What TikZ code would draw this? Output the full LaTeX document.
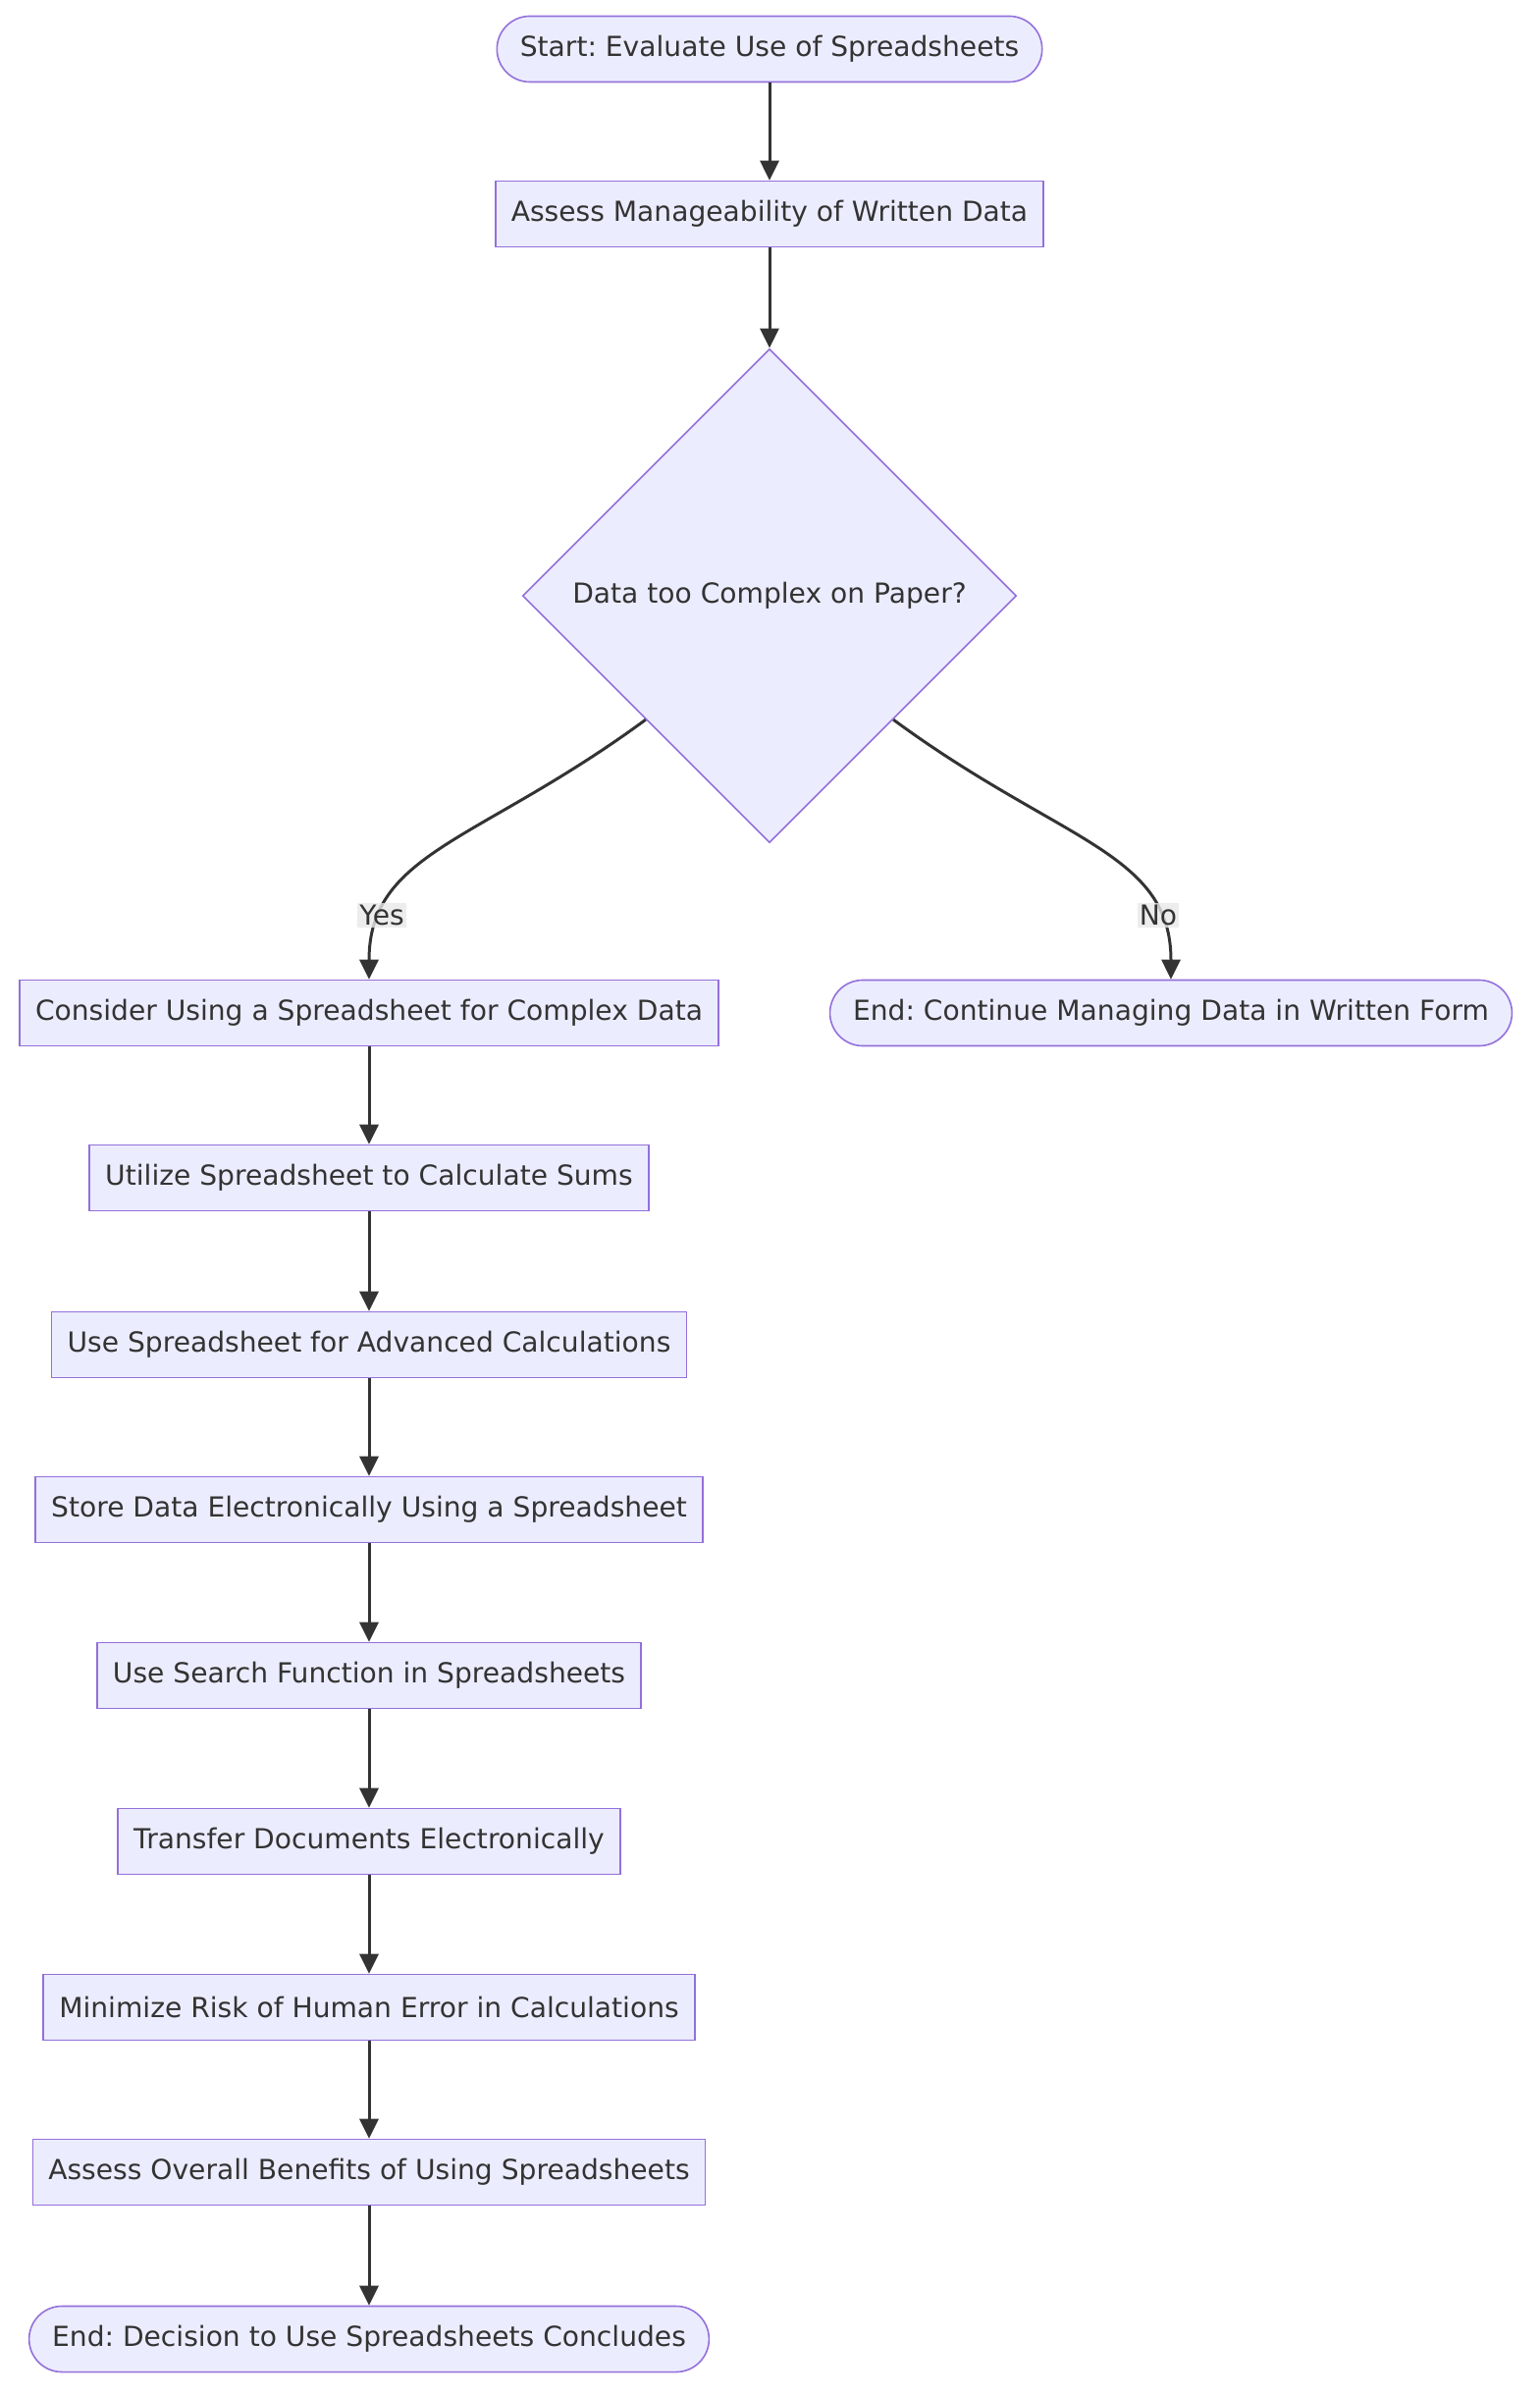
\documentclass[tikz,border=0pt]{standalone}
\usepackage{fontspec}
\setmainfont{DejaVu Sans}
\frenchspacing
\usetikzlibrary{shapes.geometric,arrows.meta}
\definecolor{boxfill}{HTML}{ECECFF}
\definecolor{boxline}{HTML}{9370DB}
\definecolor{ink}{HTML}{333333}
\definecolor{lblfill}{HTML}{E8E8E8}
\begin{document}
\begin{tikzpicture}[x=0.01cm, y=-0.01cm,
	font=\fontsize{8pt}{9.6pt}\selectfont, text=ink,
	box/.style={draw=boxline, line width=0.45pt, fill=boxfill, rectangle, minimum height=0.67cm, inner xsep=0.16cm},
	stadium/.style={box, rounded corners=0.335cm, inner xsep=0.235cm},
	decide/.style={draw=boxline, line width=0.45pt, fill=boxfill, diamond, aspect=1, minimum size=5.03cm, inner sep=0pt},
	arr/.style={-{Triangle[length=0.2cm, width=0.19cm]}, draw=ink, line width=0.85pt},
	lbl/.style={fill=lblfill, fill opacity=0.8, text opacity=1, inner sep=0.02cm}]
	\useasboundingbox (0,0) rectangle (1568,2440);
	
	\node[stadium] (start) at (784, 50) {Start: Evaluate Use of Spreadsheets};
	\node[box] (assess) at (784, 218) {Assess Manageability of Written Data};
	\node[decide] (dia) at (784, 607) {Data too Complex on Paper?};
	\node[box] (cons) at (376, 1032) {Consider Using a Spreadsheet for Complex Data};
	\node[stadium] (endc) at (1193, 1032) {End: Continue Managing Data in Written Form};
	\node[box] (util) at (376, 1200) {Utilize Spreadsheet to Calculate Sums};
	\node[box] (adv) at (376, 1370) {Use Spreadsheet for Advanced Calculations};
	\node[box] (store) at (376, 1538) {Store Data Electronically Using a Spreadsheet};
	\node[box] (search) at (376, 1707) {Use Search Function in Spreadsheets};
	\node[box] (trans) at (376, 1876) {Transfer Documents Electronically};
	\node[box] (mini) at (376, 2045) {Minimize Risk of Human Error in Calculations};
	\node[box] (overall) at (376, 2213) {Assess Overall Benefits of Using Spreadsheets};
	\node[stadium] (endd) at (376, 2383) {End: Decision to Use Spreadsheets Concludes};
	
	\draw[arr] (start) -- (assess);
	\draw[arr] (assess) -- (dia);
	\draw[arr] (dia.south west) .. controls +(-170,125) and +(0,-130) .. node[lbl, pos=0.8] {Yes} (cons.north);
	\draw[arr] (dia.south east) .. controls +(170,125) and +(0,-130) .. node[lbl, pos=0.8] {No} (endc.north);
	\draw[arr] (cons) -- (util);
	\draw[arr] (util) -- (adv);
	\draw[arr] (adv) -- (store);
	\draw[arr] (store) -- (search);
	\draw[arr] (search) -- (trans);
	\draw[arr] (trans) -- (mini);
	\draw[arr] (mini) -- (overall);
	\draw[arr] (overall) -- (endd);
\end{tikzpicture}
\end{document}
